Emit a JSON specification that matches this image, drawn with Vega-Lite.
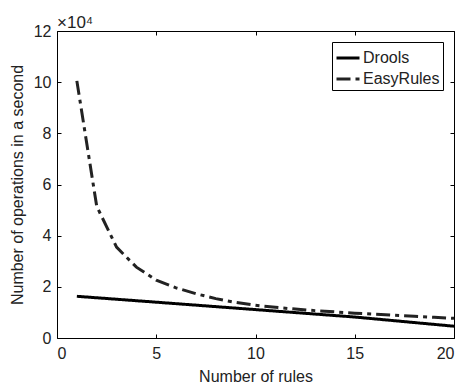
{
  "$schema": "https://vega.github.io/schema/vega-lite/v6.json",
  "autosize": "none",
  "width": 397,
  "height": 307,
  "padding": {"left": 57, "top": 31, "right": 8, "bottom": 49},
  "background": "white",
  "config": {
    "font": "Liberation Sans",
    "view": {"stroke": "#000", "strokeWidth": 1},
    "axis": {"grid": false, "domain": false, "labelFontSize": 16, "titleFontSize": 16, "titleFontWeight": "normal", "labelColor": "#222", "titleColor": "#222", "tickColor": "#000", "tickSize": -4}
  },
  "title": {"text": "×10⁴", "anchor": "start", "fontSize": 17, "fontWeight": "normal", "color": "#222", "offset": -9, "frame": "group"},
  "data": {"values": [
    {"rules": 1, "ops": 16300, "engine": "Drools"},
    {"rules": 5, "ops": 14000, "engine": "Drools"},
    {"rules": 10, "ops": 11100, "engine": "Drools"},
    {"rules": 15, "ops": 8200, "engine": "Drools"},
    {"rules": 20, "ops": 4600, "engine": "Drools"},
    {"rules": 1, "ops": 100500, "engine": "EasyRules"},
    {"rules": 2, "ops": 51500, "engine": "EasyRules"},
    {"rules": 3, "ops": 35500, "engine": "EasyRules"},
    {"rules": 4, "ops": 27700, "engine": "EasyRules"},
    {"rules": 5, "ops": 22600, "engine": "EasyRules"},
    {"rules": 6, "ops": 19600, "engine": "EasyRules"},
    {"rules": 7, "ops": 17300, "engine": "EasyRules"},
    {"rules": 8, "ops": 15400, "engine": "EasyRules"},
    {"rules": 9, "ops": 13900, "engine": "EasyRules"},
    {"rules": 10, "ops": 12800, "engine": "EasyRules"},
    {"rules": 11, "ops": 12000, "engine": "EasyRules"},
    {"rules": 12, "ops": 11300, "engine": "EasyRules"},
    {"rules": 13, "ops": 10700, "engine": "EasyRules"},
    {"rules": 14, "ops": 10200, "engine": "EasyRules"},
    {"rules": 15, "ops": 9700, "engine": "EasyRules"},
    {"rules": 16, "ops": 9300, "engine": "EasyRules"},
    {"rules": 17, "ops": 8900, "engine": "EasyRules"},
    {"rules": 18, "ops": 8500, "engine": "EasyRules"},
    {"rules": 19, "ops": 8100, "engine": "EasyRules"},
    {"rules": 20, "ops": 7700, "engine": "EasyRules"}
  ]},
  "layer": [
    {
      "mark": {"type": "line", "strokeWidth": 3, "clip": true},
      "encoding": {
        "x": {"field": "rules", "type": "quantitative", "scale": {"domain": [0, 20], "nice": false}, "axis": {"values": [0, 5, 10, 15, 20], "title": "Number of rules", "labelPadding": 11, "titlePadding": 7}},
        "y": {"field": "ops", "type": "quantitative", "scale": {"domain": [0, 120000], "nice": false}, "axis": {"values": [0, 20000, 40000, 60000, 80000, 100000, 120000], "labelExpr": "datum.value / 10000", "title": "Number of operations in a second", "labelPadding": 10, "titlePadding": 8}},
        "color": {"field": "engine", "type": "nominal", "scale": {"range": ["#000", "#222"]}, "legend": {"title": null, "orient": "top-right", "offset": 11, "strokeColor": "#000", "fillColor": "white", "padding": 3, "labelFontSize": 16, "labelColor": "#222", "symbolType": "stroke", "symbolSize": 529, "symbolStrokeWidth": 3, "rowPadding": 0, "labelOffset": 2, "cornerRadius": 0}},
        "strokeDash": {"field": "engine", "type": "nominal", "scale": {"range": [[1, 0], [14, 5, 4, 5]]}, "legend": {"title": null, "orient": "top-right", "offset": 11, "strokeColor": "#000", "fillColor": "white", "padding": 3, "labelFontSize": 16, "labelColor": "#222", "symbolType": "stroke", "symbolSize": 529, "symbolStrokeWidth": 3, "rowPadding": 0, "labelOffset": 2, "cornerRadius": 0}}
      }
    },
    {
      "mark": {"type": "line", "opacity": 0},
      "encoding": {
        "x": {"field": "rules", "type": "quantitative", "axis": {"orient": "top", "values": [0, 5, 10, 15, 20], "labels": false, "title": null}},
        "y": {"field": "ops", "type": "quantitative", "axis": {"orient": "right", "values": [0, 20000, 40000, 60000, 80000, 100000, 120000], "labels": false, "title": null}}
      }
    }
  ],
  "resolve": {"axis": {"x": "independent", "y": "independent"}}
}
